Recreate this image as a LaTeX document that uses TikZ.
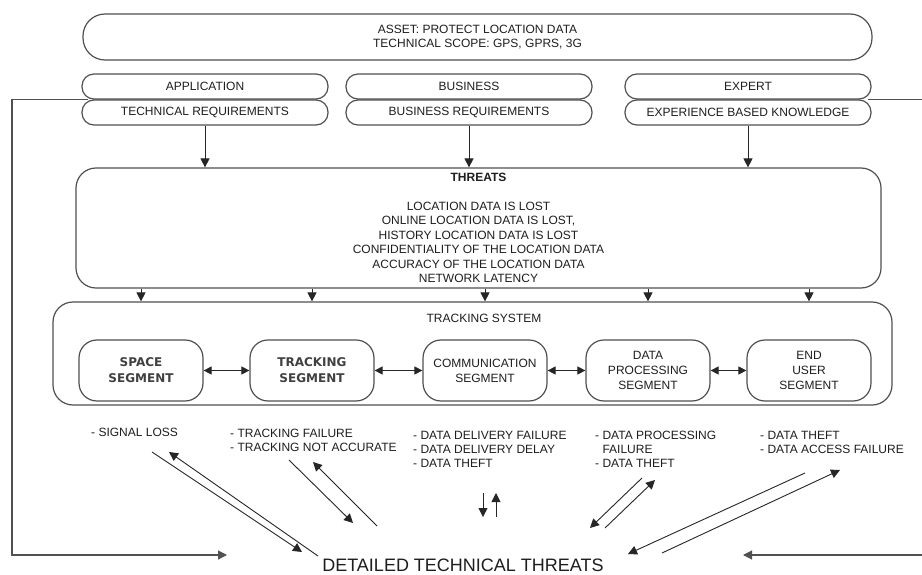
\documentclass[tikz,border=0pt]{standalone}
\usepackage{fontspec}
\setmainfont{Liberation Sans}
\newfontfamily\segfont{DejaVu Sans}
\usetikzlibrary{arrows.meta}

\definecolor{boxline}{HTML}{505050}
\definecolor{ink}{HTML}{1E1E1E}
\definecolor{wire}{HTML}{262626}

\tikzset{
  tip/.style={-{Triangle[length=9pt,width=9pt]}},
  base/.style={font=\fontsize{12}{14.5}\selectfont, text=ink, inner sep=0pt},
  pill/.style={base, draw=boxline, line width=1.2pt, rounded corners=12pt,
    minimum width=246pt, minimum height=25pt},
  bigbox/.style={base, draw=boxline, line width=1.2pt, rounded corners=20pt, align=center},
  seg/.style={base, font=\fontsize{12}{15}\selectfont, draw=boxline, line width=1.2pt,
    rounded corners=18pt, minimum width=124pt, minimum height=61pt, align=center},
  segb/.style={seg, font=\fontsize{12}{16}\segfont\bfseries, text=ink!85!white},
  note/.style={base, font=\fontsize{12}{14}\selectfont, anchor=west, align=left},
  arr/.style={draw=wire, line width=0.9pt, tip},
  darr/.style={draw=wire, line width=0.9pt,
    {Triangle[length=8pt,width=8pt]}-{Triangle[length=8pt,width=8pt]}},
  wireline/.style={draw=wire!80!white, line width=1.1pt},
}

\begin{document}
\begin{tikzpicture}[x=1pt,y=-1pt]
\useasboundingbox[fill=white] (0,0) rectangle (922,575);

% asset and scope
\node[bigbox, rounded corners=22pt, minimum width=789pt, minimum height=46pt,
  font=\fontsize{12}{14}\selectfont] (asset) at (477.5,37)
  {ASSET: PROTECT LOCATION DATA\\TECHNICAL SCOPE: GPS, GPRS, 3G};

% three sources of requirements
\node[pill] (app)     at (205,86.5)  {APPLICATION};
\node[pill] (techreq) at (205,112.5) {TECHNICAL REQUIREMENTS};
\node[pill] (bus)     at (469,86.5)  {BUSINESS};
\node[pill] (busreq)  at (469,112.5) {BUSINESS REQUIREMENTS};
\node[pill] (expert)  at (748,86.5)  {EXPERT};
\node[pill] (know)    at (748,112.5) {EXPERIENCE BASED KNOWLEDGE};

% threats
\node[bigbox, minimum width=805pt, minimum height=120pt] (threats) at (478.5,228)
  {\textbf{THREATS}\\[14.5pt]
   LOCATION DATA IS LOST\\
   ONLINE LOCATION DATA IS LOST,\\
   HISTORY LOCATION DATA IS LOST\\
   CONFIDENTIALITY OF THE LOCATION DATA\\
   ACCURACY OF THE LOCATION DATA\\
   NETWORK LATENCY};

\draw[arr] (techreq.south) -- (techreq.south |- threats.north);
\draw[arr] (busreq.south)  -- (busreq.south |- threats.north);
\draw[arr] (know.south)    -- (know.south |- threats.north);

% tracking system and its segments
\node[bigbox, minimum width=839pt, minimum height=103pt] (ts) at (472.5,353.5) {};
\node[base] (tslabel) at (484,318) {TRACKING SYSTEM};

\node[segb] (space) at (141,370.5) {SPACE\\SEGMENT};
\node[segb] (track) at (312,370.5) {TRACKING\\SEGMENT};
\node[seg]  (comm)  at (485,370.5) {COMMUNICATION\\SEGMENT};
\node[seg]  (dproc) at (648,370.5) {DATA\\PROCESSING\\SEGMENT};
\node[seg]  (euser) at (809,370.5) {END\\USER\\SEGMENT};

\foreach \s in {space,track,comm,dproc,euser}
  \draw[arr] (\s |- threats.south) -- (\s |- ts.north);

\draw[darr] (space.east) -- (track.west);
\draw[darr] (track.east) -- (comm.west);
\draw[darr] (comm.east)  -- (dproc.west);
\draw[darr] (dproc.east) -- (euser.west);

% threats per segment
\node[note] (nspace) at (91,432)  {- SIGNAL LOSS};
\node[note] (ntrack) at (230,440) {- TRACKING FAILURE\\- TRACKING NOT ACCURATE};
\node[note] (ncomm)  at (413,449) {- DATA DELIVERY FAILURE\\- DATA DELIVERY DELAY\\- DATA THEFT};
\node[note] (ndproc) at (595,449) {- DATA PROCESSING\\\phantom{- }FAILURE\\- DATA THEFT};
\node[note] (neuser) at (760,442) {- DATA THEFT\\- DATA ACCESS FAILURE};

\node[base, font=\fontsize{18}{20}\selectfont] (detailed) at (463,565)
  {DETAILED TECHNICAL THREATS};

% feedback loops round the outside
\coordinate (ljoin) at (88,99.5);
\coordinate (lcorner1) at (12,99.5);
\coordinate (lcorner2) at (12,555);
\coordinate (ltip) at (227,555);
\draw[wireline, tip] (ljoin) -- (lcorner1) -- (lcorner2) -- (ltip);

\coordinate (rjoin) at (868,99.5);
\coordinate (redge) at (922,99.5);
\coordinate (rback) at (922,555);
\coordinate (rtip) at (743,555);
\draw[wireline] (rjoin) -- (redge);
\draw[wireline, tip] (rback) -- (rtip);

% two-way links between the threat lists and the detailed threats
\coordinate (a1s) at (152,452); \coordinate (a1e) at (302,552);
\coordinate (a2s) at (318,556); \coordinate (a2e) at (169,452);
\draw[arr] (a1s) -- (a1e);
\draw[arr] (a2s) -- (a2e);

\coordinate (b1s) at (289,460); \coordinate (b1e) at (353,523);
\coordinate (b2s) at (377,526); \coordinate (b2e) at (313,462);
\draw[arr] (b1s) -- (b1e);
\draw[arr] (b2s) -- (b2e);

\coordinate (c1s) at (483,493); \coordinate (c1e) at (483,517);
\coordinate (c2s) at (496,517); \coordinate (c2e) at (496,493);
\draw[arr] (c1s) -- (c1e);
\draw[arr] (c2s) -- (c2e);

\coordinate (d1s) at (642,478); \coordinate (d1e) at (590,528);
\coordinate (d2s) at (605,528); \coordinate (d2e) at (655,480);
\draw[arr] (d1s) -- (d1e);
\draw[arr] (d2s) -- (d2e);

\coordinate (e1s) at (805,473); \coordinate (e1e) at (628,554);
\coordinate (e2s) at (662,553); \coordinate (e2e) at (840,470);
\draw[arr] (e1s) -- (e1e);
\draw[arr] (e2s) -- (e2e);
\end{tikzpicture}
\end{document}
